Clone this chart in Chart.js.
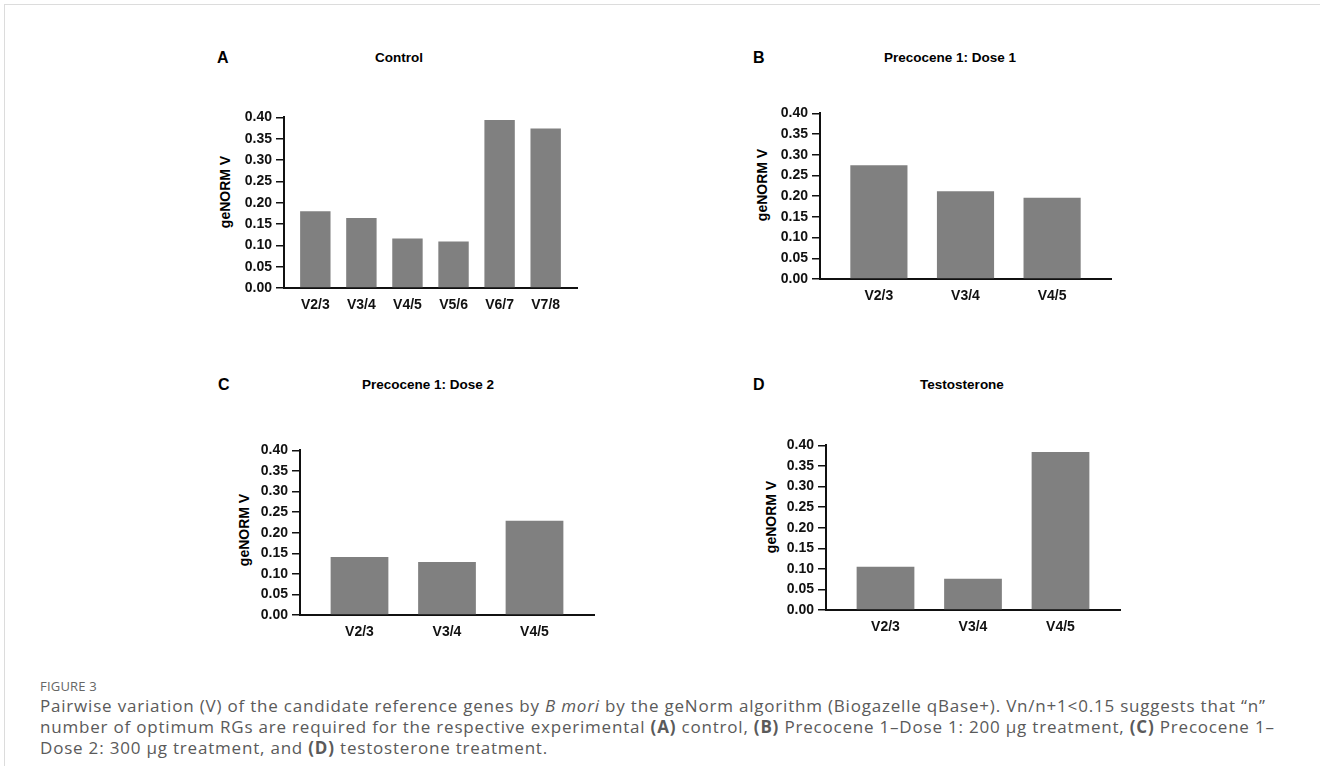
<!DOCTYPE html>
<html>
<head>
<meta charset="utf-8">
<script src="https://cdn.jsdelivr.net/npm/chart.js@4.4.0/dist/chart.umd.min.js"></script>
<style>
  body { margin: 0; background: #fff; width: 1320px; height: 766px; position: relative; overflow: hidden; font-family: "Liberation Sans", Arial, sans-serif; }
  .frame { position: absolute; left: 4px; top: 4px; right: 0; bottom: 0; border-left: 1px solid #dcdcdc; border-top: 1px solid #dcdcdc; }
  .letter { position: absolute; font-weight: bold; font-size: 16px; line-height: 1; color: #000; }
  .title { position: absolute; font-weight: bold; font-size: 13.5px; line-height: 1; color: #000; white-space: nowrap; transform: translateX(-50%); }
  .ytitle { position: absolute; font-weight: bold; font-size: 14px; line-height: 1; color: #000; white-space: nowrap; transform: translate(-50%, -50%) rotate(-90deg); }
  canvas { position: absolute; }
  .fig { position: absolute; left: 40px; top: 677px; font-family: "Open Sans", sans-serif; font-size: 13px; color: #666; letter-spacing: 0.2px; }
  .cap { position: absolute; left: 40px; top: 696px; font-family: "Open Sans", sans-serif; font-size: 17px; letter-spacing: 0.8px; line-height: 20.8px; color: #5a5a5a; white-space: nowrap; }
</style>
</head>
<body>
<div class="frame"></div>
<div id="panels"></div>
<div class="fig">FIGURE 3</div>
<div class="cap">Pairwise variation (V) of the candidate reference genes by <i>B mori</i> by the geNorm algorithm (Biogazelle qBase+). Vn/n+1&lt;0.15 suggests that “n”<br>number of optimum RGs are required for the respective experimental <b>(A)</b> control, <b>(B)</b> Precocene 1–Dose 1: 200 μg treatment, <b>(C)</b> Precocene 1–<br>Dose 2: 300 μg treatment, and <b>(D)</b> testosterone treatment.</div>
<script>
// data
const panelLetters = ['A', 'B', 'C', 'D'];
const panelTitles = ['Control', 'Precocene 1: Dose 1', 'Precocene 1: Dose 2', 'Testosterone'];
const controlLabels = ['V2/3', 'V3/4', 'V4/5', 'V5/6', 'V6/7', 'V7/8'];
const controlValues = [0.180, 0.164, 0.116, 0.109, 0.394, 0.374];
const treatLabels = ['V2/3', 'V3/4', 'V4/5'];
const dose1Values = [0.275, 0.212, 0.196];
const dose2Values = [0.141, 0.129, 0.229];
const testoValues = [0.105, 0.076, 0.384];
const yMax = 0.40;
const yStep = 0.05;
const yTitle = 'geNORM V';

// where each plot sits on the page (axis x, top, bottom, right end of x axis)
const layout = [
  { labels: controlLabels, values: controlValues, ax: 284, top: 115, bottom: 288, right: 577, lx: 217, ly: 50, tx: 399, ty: 51, yx: 225, yy: 192 },
  { labels: treatLabels, values: dose1Values, ax: 820, top: 111, bottom: 279, right: 1111, lx: 753, ly: 50, tx: 950, ty: 51, yx: 762, yy: 185 },
  { labels: treatLabels, values: dose2Values, ax: 300, top: 448, bottom: 615, right: 594, lx: 218, ly: 377, tx: 428, ty: 378, yx: 244, yy: 530 },
  { labels: treatLabels, values: testoValues, ax: 826, top: 443, bottom: 610, right: 1120, lx: 753, ly: 377, tx: 962, ty: 378, yx: 771, yy: 517 }
];

const PAD = 0.68;
const LEFT = 70, BOTTOM = 40;
const boldFont = { family: '"Liberation Sans", Arial, sans-serif', size: 14, weight: 'bold' };
const host = document.getElementById('panels');

layout.forEach(function (p, k) {
  const letter = document.createElement('div');
  letter.className = 'letter';
  letter.style.left = p.lx + 'px';
  letter.style.top = p.ly + 'px';
  letter.textContent = panelLetters[k];
  host.appendChild(letter);

  const title = document.createElement('div');
  title.className = 'title';
  title.style.left = p.tx + 'px';
  title.style.top = p.ty + 'px';
  title.textContent = panelTitles[k];
  host.appendChild(title);

  const yt = document.createElement('div');
  yt.className = 'ytitle';
  yt.style.left = p.yx + 'px';
  yt.style.top = p.yy + 'px';
  yt.textContent = yTitle;
  host.appendChild(yt);

  const cv = document.createElement('canvas');
  const w = p.right - p.ax + LEFT + 10;
  const h = p.bottom - p.top + 10 + BOTTOM;
  cv.width = w; cv.height = h;
  cv.style.left = (p.ax - LEFT) + 'px';
  cv.style.top = (p.top - 10) + 'px';
  cv.style.width = w + 'px';
  cv.style.height = h + 'px';
  host.appendChild(cv);

  const labels = p.labels;
  new Chart(cv.getContext('2d'), {
    type: 'bar',
    data: {
      datasets: [{
        data: p.values.map(function (v, i) { return { x: i, y: v }; }),
        backgroundColor: '#808080',
        borderWidth: 0,
        barPercentage: 0.66,
        categoryPercentage: 1
      }]
    },
    options: {
      responsive: false,
      animation: false,
      devicePixelRatio: 1,
      layout: { padding: { top: 10, right: 10, left: 0, bottom: 0 } },
      plugins: { legend: { display: false }, tooltip: { enabled: false } },
      scales: {
        x: {
          type: 'linear',
          offset: false,
          min: -PAD,
          max: labels.length - 1 + PAD,
          afterFit: function (s) { s.height = BOTTOM; },
          grid: { display: true, offset: false, drawOnChartArea: false, drawTicks: false },
          border: { display: true, color: '#111', width: 2 },
          ticks: {
            stepSize: 1,
            includeBounds: false,
            autoSkip: false,
            maxRotation: 0,
            padding: 9,
            color: '#111',
            font: boldFont,
            callback: function (v) { return labels[v] !== undefined ? labels[v] : ''; }
          }
        },
        y: {
          min: 0,
          max: yMax,
          afterFit: function (s) { s.width = LEFT; },
          grid: { display: true, drawOnChartArea: false, drawTicks: true, tickLength: 8, color: '#111', lineWidth: 1.5 },
          border: { display: true, color: '#111', width: 2 },
          ticks: {
            stepSize: yStep,
            padding: 4,
            color: '#111',
            font: boldFont,
            callback: function (v) { return v.toFixed(2); }
          }
        }
      }
    }
  });
});
</script>
</body>
</html>
